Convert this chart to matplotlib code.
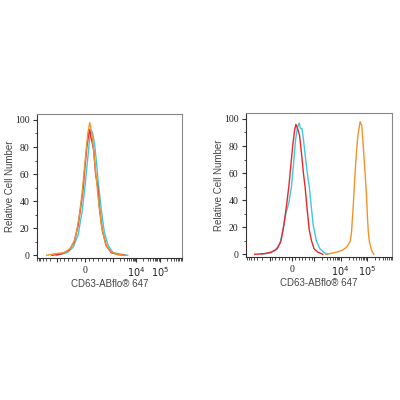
import numpy as np
import matplotlib.pyplot as plt

# ---- data (fluorescence value, relative cell number) ----
# left panel
L_red_x = [-1615, -828, -552, -379, -241, -138, -59, 0, 69, 138, 172, 207, 241, 310, 379, 459, 517, 621, 759, 931, 1615, 3162]
L_red_y = [0, 1, 4, 10, 22, 37, 50, 65, 80, 90, 93, 88, 85, 78, 60, 50, 35, 18, 7, 2, 0.5, 0]

L_orange_x = [-2700, -1350, -724, -517, -345, -207, -103, 0, 103, 172, 207, 276, 345, 414, 483, 586, 724, 897, 1615, 3480]
L_orange_y = [0, 1, 2, 5, 12, 28, 45, 68, 90, 98, 95, 85, 70, 55, 40, 22, 9, 3, 0.5, 0]

L_cyan_x = [-1000, -621, -414, -241, -103, 0, 103, 172, 241, 276, 345, 414, 483, 586, 690, 828, 1000, 1960, 4200]
L_cyan_y = [0, 2, 6, 15, 32, 50, 72, 87, 92, 90, 82, 68, 52, 33, 17, 7, 2, 1, 0]

# right panel
R_red_x = [-3687, -1571, -926, -665, -491, -361, -230, -143, -57, 30, 117, 174, 248, 335, 422, 509, 583, 683, 770, 870, 987, 1371, 2099]
R_red_y = [0, 0.5, 1.5, 4, 10, 22, 38, 50, 65, 80, 92, 96, 93, 88, 75, 60, 50, 32, 18, 10, 4, 1.5, 0]

R_cyan_x = [-2029, -1026, -752, -535, -404, -274, -143, -26, 74, 161, 248, 322, 378, 443, 509, 596, 683, 770, 857, 943, 1186, 1626, 2287, 3217]
R_cyan_y = [0, 1, 3, 8, 18, 30, 38, 50, 68, 85, 94, 97, 93, 93, 85, 72, 60, 50, 36, 22, 10, 4, 1.5, 0]

R_orange_x = [2713, 5363, 8222, 11560, 16260, 19280, 23450, 26000, 29540, 33000, 38100, 45300, 55100, 63660,
              75500, 91900, 99100, 106100, 113700, 122800, 149300, 181600]
R_orange_y = [0, 1, 2, 3, 5, 7, 10, 17, 33, 50, 70, 88, 98, 95, 75, 50, 38, 25, 16, 10, 3, 0]

xticks = [-1000, 0, 1000, 1e4, 1e5]
xticklabels = ['', '0', '', '$10^4$', '$10^5$']
yticks = [0, 20, 40, 60, 80, 100]

RED = '#e8262b'
ORANGE = '#f0932b'
CYAN = '#3fc8e0'

minor = list(np.arange(-900, 1000, 150))
for n in [3, 4, 5]:
    minor += [k * 10**n for k in range(2, 10)]
minor += [-k * 1000 for k in range(2, 8)]

fig = plt.figure(figsize=(4, 4), dpi=100)


def panel(rect, linscale, xlim, curves):
    ax = fig.add_axes(rect)
    for x, y, c in curves:
        ax.plot(x, y, color=c, lw=1.0)
    ax.set_xscale('symlog', linthresh=1000, linscale=linscale)
    ax.set_xlim(xlim)
    ax.set_ylim(-2, 104.4)
    ax.set_xticks(xticks)
    ax.set_xticklabels(xticklabels, fontfamily='Liberation Serif', fontsize=7)
    ax.set_xticks(minor, minor=True)
    ax.set_yticks(yticks)
    ax.set_yticklabels([str(v) for v in yticks], fontfamily='Liberation Serif', fontsize=7)
    ax.set_yticks(range(10, 100, 20), minor=True)
    ax.tick_params(which='major', length=3, width=0.8, color='#333333', pad=2.5)
    ax.tick_params(which='minor', length=1.8, width=0.6, color='#333333')
    ax.tick_params(labelcolor='#222222')
    for s in ['left', 'bottom']:
        ax.spines[s].set_color('#333333')
    for s in ['top', 'right']:
        ax.spines[s].set_color('#888888')
    for s in ax.spines.values():
        s.set_linewidth(0.8)
    ax.set_ylabel('Relative Cell Number', fontfamily='Liberation Sans', fontsize=7, color='#444444')
    ax.set_xlabel('CD63-ABflo® 647', fontfamily='Liberation Sans', fontsize=7, color='#444444')
    ax.yaxis.set_label_coords(-0.15, 0.5)
    ax.xaxis.set_label_coords(0.5, -0.145)
    return ax


panel([0.0925, 0.355, 0.3625, 0.36], 1.0875, (-6813, 6.17e5),
      [(L_cyan_x, L_cyan_y, CYAN), (L_red_x, L_red_y, RED), (L_orange_x, L_orange_y, ORANGE)])
panel([0.615, 0.3575, 0.365, 0.36], 0.767, (-7943, 6.37e5),
      [(R_cyan_x, R_cyan_y, CYAN), (R_red_x, R_red_y, RED), (R_orange_x, R_orange_y, ORANGE)])

fig.savefig('out.png', dpi=100)
